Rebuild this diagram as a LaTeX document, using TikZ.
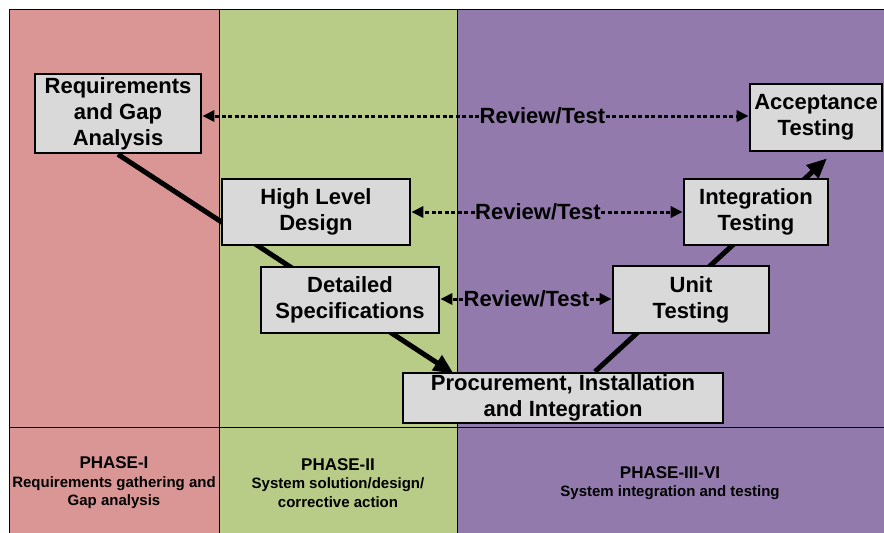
\documentclass[tikz,border=0pt]{standalone}
\usepackage{fontspec}
\setmainfont{Liberation Sans}
\usetikzlibrary{arrows.meta,backgrounds}
\definecolor{phaseA}{RGB}{217,150,148}
\definecolor{phaseB}{RGB}{184,203,135}
\definecolor{phaseC}{RGB}{146,123,172}
\definecolor{boxgray}{RGB}{217,217,217}
\tikzset{ act/.style = { rectangle % activity box
        , draw
        , line width = 2.7pt
        , fill = boxgray
        , align = center
        , inner sep = 1pt
        , font = \bfseries\fontsize{22}{26}\selectfont
        }
      , rev/.style = { inner sep = 0.5pt % review label
        , font = \bfseries\fontsize{22}{26}\selectfont
        }
      , vee/.style = { line width = 5pt % v line
        , -{Triangle[length=20pt,width=17pt]}
        }
      , rva/.style = { line width = 3pt % review arrow
        , dash pattern = on 4pt off 2.5pt
        , -{Triangle[length=12pt,width=11pt]}
        }
      , ph/.style = { align = center % phase label
        , font = \bfseries\fontsize{15}{18.5}\selectfont
        }
      }
\newcommand{\phead}[1]{{\fontsize{17}{19}\selectfont #1}}
\begin{document}
\begin{tikzpicture}[x=1pt, y=-1pt]
\useasboundingbox (0,0) rectangle (884,533);
% activity boxes
\node[act, minimum width=166pt, minimum height=79pt] (req) at (118,113.5) {Requirements\\and Gap\\Analysis};
\node[act, minimum width=188pt, minimum height=66pt] (hld) at (316,212) {High Level\\Design};
\node[act, minimum width=178pt, minimum height=66pt] (ds)  at (350,300) {Detailed\\Specifications};
\node[act, minimum width=320pt, minimum height=50pt, inner sep=0pt] (pii) at (563,398) {Procurement, Installation\\and Integration};
\node[act, minimum width=156pt, minimum height=67pt] (ut)  at (691,299.5) {Unit\\Testing};
\node[act, minimum width=144pt, minimum height=66pt] (it)  at (756,212) {Integration\\Testing};
\node[act, minimum width=132pt, minimum height=67pt] (at)  at (816,117.5) {Acceptance\\Testing};
% review / test
\node[rev] (rt1) at (542.5,116) {Review/Test};
\node[rev] (rt2) at (538,212) {Review/Test};
\node[rev] (rt3) at (526.5,299) {Review/Test};
\draw[rva] (rt1) -- (rt1 -| req.east);
\draw[rva] (rt1) -- (rt1 -| at.west);
\draw[rva] (rt2) -- (rt2 -| hld.east);
\draw[rva] (rt2) -- (rt2 -| it.west);
\draw[rva] (rt3) -- (rt3 -| ds.east);
\draw[rva] (rt3) -- (rt3 -| ut.west);
% phases
\node[ph] (p1) at (114,483) {\phead{PHASE-I}\\Requirements gathering and\\Gap analysis};
\node[ph] (p2) at (338,483) {\phead{PHASE-II}\\System solution/design/\\corrective action};
\node[ph] (p3) at (670,483) {\phead{PHASE-III-VI}\\System integration and testing};
\begin{scope}[on background layer]
  \fill[phaseA] (9,9) rectangle (219,533);
  \fill[phaseB] (219,9) rectangle (457,533);
  \fill[phaseC] (457,9) rectangle (884,533);
  \draw[line width=1pt] (884,9) -- (9,9) -- (9,533);
  \draw[line width=1pt] (219,9) -- (219,533) (457,9) -- (457,533) (9,427) -- (884,427);
  \draw[vee] (req.south) -- ([xshift=52pt,yshift=-2pt]pii.north west);
  \draw[vee] ([xshift=32pt]pii.north) -- ([xshift=11pt,yshift=-6pt]at.south);
\end{scope}
\end{tikzpicture}
\end{document}
